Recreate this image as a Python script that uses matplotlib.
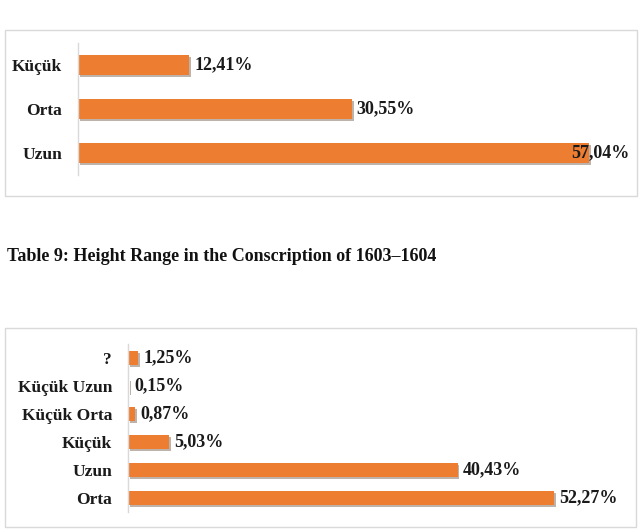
import matplotlib
matplotlib.use("Agg")
import matplotlib.pyplot as plt
from matplotlib.patches import Rectangle
import matplotlib.patheffects as pe

# chart data
top_cats = ["Küçük", "Orta", "Uzun"]
top_vals = [12.41, 30.55, 57.04]

bot_cats = ["?", "Küçük Uzun", "Küçük Orta", "Küçük", "Uzun", "Orta"]
bot_vals = [1.25, 0.15, 0.87, 5.03, 40.43, 52.27]

caption = "Table 9: Height Range in the Conscription of 1603–1604"

ORANGE = "#ED7D31"
GRID = "#d9d9d9"
FS = 13
FW, FH = 643, 530
plt.rcParams["font.family"] = ["Liberation Serif", "DejaVu Serif"]


def fbox(x0, y0, x1, y1):
    # pixel box (top-left origin) -> figure rect
    return [x0 / FW, 1 - y1 / FH, (x1 - x0) / FW, (y1 - y0) / FH]


def frame(fig, x0, y0, x1, y1):
    l, b, w, h = fbox(x0, y0, x1, y1)
    fig.patches.append(Rectangle((l, b), w, h, transform=fig.transFigure,
                                 facecolor="none", edgecolor=GRID, linewidth=1.0))


def pct(v):
    return f"{v:.2f}".replace(".", ",") + "%"


def hbar(ax, cats, vals, bar_h):
    ys = range(len(cats))
    bars = ax.barh(ys, vals, height=bar_h, color=ORANGE, edgecolor="none")
    for b in bars:
        b.set_path_effects([pe.SimplePatchShadow(offset=(1.2, -1.5), alpha=0.35), pe.Normal()])
    ax.set_xlim(0, 60)
    ax.set_ylim(len(cats) - 0.5, -0.5)
    ax.set_yticks(list(ys))
    ax.set_yticklabels(cats, fontsize=12.5, fontweight="bold", color="#1a1a1a")
    ax.tick_params(axis="y", length=0, pad=11.5)
    ax.set_xticks([])
    for s in ["top", "right", "bottom"]:
        ax.spines[s].set_visible(False)
    ax.spines["left"].set_color(GRID)
    ax.spines["left"].set_linewidth(1.0)
    for i, v in enumerate(vals):
        off = -13.5 if v > 55 else 3.5
        ax.annotate(pct(v), (v, i), xytext=(off, 0), textcoords="offset points",
                    ha="left", va="center", fontsize=FS, fontweight="bold",
                    color="#1a1a1a", annotation_clip=False)


fig = plt.figure(figsize=(FW / 100, FH / 100), dpi=100)

frame(fig, 5, 30, 637, 196)
ax1 = fig.add_axes(fbox(78, 43, 616, 175))
hbar(ax1, top_cats, top_vals, 0.46)

fig.text(7 / FW, 1 - 261 / FH, caption, ha="left", va="baseline",
         fontsize=FS, fontweight="bold", color="#111111")

frame(fig, 5, 328, 636, 527)
ax2 = fig.add_axes(fbox(128, 344, 617, 512))
hbar(ax2, bot_cats, bot_vals, 0.5)

fig.savefig("out.png", dpi=100, facecolor="white")
